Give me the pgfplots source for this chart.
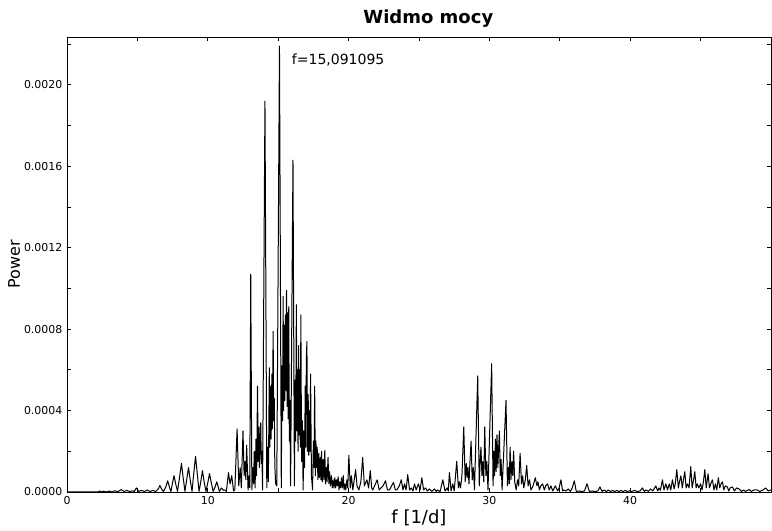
\documentclass[border=0pt]{standalone}
\usepackage{fontspec}
\setmainfont{DejaVu Sans}
\usepackage{pgfplots}
\pgfplotsset{compat=1.18}

\begin{document}
\begin{tikzpicture}
\begin{axis}[
  scale only axis,
  width=528pt, height=341.25pt,
  xmin=0, xmax=50, ymin=0, ymax=0.002235,
  xtick={0,5,...,45}, xticklabels={0,,10,,20,,30,,40,},
  ytick={0,0.0002,0.0004,0.0006,0.0008,0.0010,0.0012,0.0014,0.0016,0.0018,0.0020,0.0022},
  yticklabels={0.0000,,0.0004,,0.0008,,0.0012,,0.0016,,0.0020,},
  scaled y ticks=false,
  tick align=inside, major tick length=3pt,
  tick style={black, line width=0.6pt},
  axis line style={black, line width=0.7pt},
  tick label style={font=\fontsize{8.2}{9}\selectfont},
  /pgf/number format/assume math mode=true,
  xlabel={f [1/d]}, ylabel={Power},
  xlabel style={font=\fontsize{13.5}{15}\selectfont, yshift=3pt},
  ylabel style={font=\fontsize{12}{14}\selectfont, yshift=-4pt},
  title={\textbf{Widmo mocy}},
  title style={font=\fontsize{13.5}{16}\selectfont, yshift=-2pt, xshift=7pt},
]
\addplot[black, line width=0.75pt, line join=round] coordinates {
(0,0) (2.2,0) (2.3,0.000005) (2.45,0) (2.6,0.000004) (2.8,0) (3.0,0.000005) (3.2,0)
(3.4,0.000006) (3.6,0.000001) (3.85,0.000012) (4.05,0.000002) (4.25,0.000008) (4.45,0.000002)
(4.65,0.000006) (4.78,0.000002) (4.92,0.00002) (5.1,0.000003) (5.3,0.000008) (5.5,0.000002)
(5.7,0.00001) (5.9,0.000002) (6.1,0.000008) (6.3,0.000002)
(6.48,0.000015) (6.6,0.000032) (6.72,0.000015) (6.85,0.000002)
(7.02,0.000025) (7.15,0.000055) (7.27,0.000025) (7.38,0.000002)
(7.48,0.00004) (7.6,0.00008) (7.72,0.00004) (7.85,0.000003)
(7.99,0.00007) (8.13,0.00014) (8.25,0.00007) (8.38,0.000003)
(8.5,0.00006) (8.63,0.00012) (8.75,0.00006) (8.88,0.000003)
(9.0,0.00009) (9.13,0.000175) (9.25,0.00009) (9.38,0.000003)
(9.5,0.00005) (9.62,0.000105) (9.74,0.00005) (9.87,0.000003)
(10.0,0.000045) (10.12,0.00009) (10.25,0.000045) (10.38,0.000003)
(10.52,0.000025) (10.64,0.00005) (10.74,0.000025) (10.82,0.000003)
(10.97,0.00002) (11.12,0.000008)
(11.22,0.00001) (11.32,0.000003) (11.47,0.000095) (11.58,0.00004) (11.7,0.00008) (11.83,0.000005)
(11.92,0.00001) (12.08,0.00031) (12.2,0.00003) (12.3,0.00012) (12.38,0.00002) (12.5,0.0003)
(12.58,0.00008) (12.66,0.00015) (12.7,0.00006) (12.76,0.00023) (12.86,0.00001) (12.93,0.00008)
(12.98,0.00002) (13.05,0.00107) (13.13,0.00001) (13.2,0.00012) (13.25,0.00004) (13.3,0.0002)
(13.36,0.00002) (13.42,0.00026) (13.47,0.00008) (13.53,0.00052) (13.58,0.00015) (13.63,0.00032)
(13.67,0.00012) (13.72,0.00028) (13.76,0.00034) (13.8,0.00014) (13.84,0.0002) (13.89,0.00001)
(14.06,0.00192) (14.19,0.00002) (14.25,0.00022) (14.3,0.00005) (14.37,0.00061) (14.41,0.00022)
(14.46,0.00052) (14.5,0.00026) (14.55,0.00058) (14.59,0.00031) (14.64,0.00079) (14.68,0.00035)
(14.72,0.00046) (14.76,0.00013) (14.82,0.00004) (14.9,0.00003) (15.09,0.00219) (15.22,0.00002)
(15.27,0.00062) (15.31,0.00035) (15.35,0.00096) (15.39,0.0004) (15.43,0.00082) (15.47,0.00045)
(15.51,0.00087) (15.55,0.0005) (15.59,0.00099) (15.63,0.00042) (15.67,0.00088) (15.71,0.00036)
(15.75,0.00091) (15.79,0.00025) (15.83,0.00045) (15.88,0.00003) (16.05,0.00163) (16.15,0.00003)
(16.2,0.00055) (16.24,0.00025) (16.29,0.00092) (16.33,0.0003) (16.37,0.0006) (16.41,0.0002)
(16.45,0.00072) (16.49,0.00028) (16.53,0.0006) (16.57,0.00022) (16.61,0.00087) (16.66,0.00015)
(16.72,0.00035) (16.77,0.00001) (16.83,0.0003) (16.87,0.00012) (16.92,0.00052) (16.96,0.00022)
(17.0,0.00066) (17.04,0.00074) (17.08,0.0002) (17.13,0.00048) (17.17,0.00018) (17.22,0.0004)
(17.26,0.0002) (17.3,0.00058) (17.36,0.00008) (17.44,0.00001) (17.5,0.00025) (17.55,0.00012)
(17.59,0.00052) (17.64,0.00008) (17.68,0.00025) (17.72,0.00012) (17.77,0.00022) (17.82,0.00006)
(17.88,0.00019) (17.93,0.00007) (17.99,0.00017) (18.03,0.00006) (18.08,0.0002) (18.13,0.00005)
(18.2,0.00016) (18.25,0.00006) (18.31,0.000205) (18.36,0.00004) (18.42,0.00012) (18.47,0.00005)
(18.54,0.00017) (18.6,0.00004) (18.65,0.0001) (18.71,0.00003) (18.78,0.00008) (18.84,0.00002)
(18.9,0.00006) (18.96,0.00002) (19.02,0.00007) (19.08,0.00002) (19.14,0.00006) (19.2,0.00003)
(19.26,0.000075) (19.32,0.00001) (19.38,0.00005) (19.44,0.00002) (19.5,0.00007) (19.56,0.00002)
(19.62,0.00008) (19.68,0.00001) (19.74,0.00004) (19.8,0.00001) (19.88,0.00006) (19.94,0.00002)
(20.02,0.00018) (20.12,0.00002) (20.2,0.00008) (20.3,0.00001) (20.4,0.00006) (20.5,0.00011)
(20.6,0.00003) (20.73,0.00001) (20.87,0.00005) (21.0,0.00017) (21.12,0.00003) (21.3,0.00006)
(21.42,0.00002) (21.54,0.000105) (21.64,0.00002) (21.72,0.00001) (21.85,0.00003) (22.03,0.00006)
(22.17,0.00001) (22.3,0.00002) (22.45,0.00003) (22.62,0.000055) (22.76,0.00001) (22.9,0.00001)
(23.05,0.00003) (23.19,0.000047) (23.32,0.00001) (23.43,0.00001) (23.6,0.00003) (23.74,0.00006)
(23.86,0.00001) (23.97,0.00004) (24.08,0.00001) (24.2,0.000085) (24.33,0.00001) (24.45,0.00002)
(24.57,0.000005) (24.68,0.00004) (24.8,0.00001) (24.96,0.00004) (25.08,0.00001) (25.2,0.00007)
(25.33,0.00001) (25.46,0.00002) (25.6,0.000005) (25.74,0.000015) (25.9,0.000003) (26.1,0.000015)
(26.22,0.000003) (26.33,0.00001) (26.5,0.000002) (26.69,0.00006) (26.85,0.000005) (27.0,0.00002)
(27.08,0.000005) (27.16,0.000095) (27.28,0.000005) (27.4,0.00004) (27.5,0.000005) (27.68,0.00015)
(27.8,0.00002) (27.87,0.00005) (27.95,0.00002) (28.05,0.00008) (28.18,0.00032) (28.28,0.00005)
(28.36,0.00014) (28.42,0.00007) (28.48,0.00012) (28.55,0.00004) (28.62,0.00015) (28.7,0.00025)
(28.78,0.00006) (28.86,0.00012) (28.94,0.00001) (29.17,0.00057) (29.28,0.00003) (29.34,0.00015)
(29.4,0.00022) (29.47,0.00008) (29.53,0.00015) (29.6,0.00005) (29.67,0.00032) (29.75,0.00008)
(29.82,0.00015) (29.9,0.00001) (30.16,0.00063) (30.26,0.00003) (30.32,0.0002) (30.37,0.00008)
(30.43,0.00026) (30.48,0.0001) (30.54,0.00028) (30.6,0.00012) (30.66,0.00022) (30.71,0.0003)
(30.77,0.00008) (30.83,0.00016) (30.9,0.00001) (31.18,0.00045) (31.28,0.00003) (31.35,0.00012)
(31.41,0.00004) (31.47,0.00022) (31.53,0.00006) (31.6,0.00015) (31.66,0.00008) (31.72,0.0002)
(31.8,0.00005) (31.9,0.00001) (32.0,0.00006) (32.08,0.00003) (32.18,0.00019) (32.28,0.00004)
(32.36,0.00008) (32.44,0.00002) (32.55,0.00006) (32.65,0.00013) (32.75,0.00003) (32.85,0.00006)
(32.95,0.00001) (33.1,0.00003) (33.26,0.00007) (33.38,0.00003) (33.45,0.00005) (33.55,0.00001)
(33.65,0.00003) (33.78,0.00004) (33.9,0.00001) (34.0,0.00003) (34.13,0.00004) (34.25,0.00001)
(34.37,0.00003) (34.5,0.000005) (34.68,0.00003) (34.85,0.000005) (34.95,0.00002) (35.08,0.00006)
(35.2,0.000005) (35.3,0.00001) (35.44,0.000005) (35.6,0.000015) (35.75,0.000003) (35.88,0.00002)
(36.03,0.000055) (36.17,0.000003) (36.38,0.000005) (36.55,0.000002) (36.75,0.000005) (36.93,0.00004)
(37.1,0.000003) (37.3,0.000005) (37.5,0.000002) (37.7,0.000005) (37.85,0.000025) (38.0,0.000003)
(38.15,0.00001) (38.3,0.000002) (38.45,0.00001) (38.6,0.000002) (38.75,0.000008) (38.9,0.000002)
(39.05,0.000008) (39.2,0.000002) (39.35,0.000008) (39.5,0.000002) (39.65,0.000008) (39.8,0.000002)
(39.95,0.000006) (40.1,0.000002) (40.3,0.000008) (40.5,0.000002) (40.7,0.000005) (40.87,0.00002)
(41.0,0.000003) (41.15,0.00001) (41.3,0.000003) (41.45,0.000015) (41.6,0.000005) (41.82,0.00003)
(41.95,0.000005) (42.05,0.00002) (42.15,0.000008) (42.29,0.00006) (42.4,0.00001) (42.53,0.00004)
(42.65,0.00001) (42.77,0.00004) (42.88,0.00001) (43.0,0.00006) (43.12,0.000015) (43.2,0.00004)
(43.31,0.00011) (43.42,0.00002) (43.5,0.00005) (43.6,0.00008) (43.7,0.00002) (43.78,0.00006)
(43.88,0.0001) (43.97,0.00002) (44.07,0.00004) (44.18,0.00002) (44.3,0.000125) (44.4,0.00002)
(44.5,0.00006) (44.59,0.0001) (44.68,0.00002) (44.77,0.00004) (44.88,0.00002) (45.0,0.00004)
(45.1,0.00001) (45.2,0.00005) (45.3,0.00011) (45.4,0.00002) (45.53,0.00009) (45.63,0.00002)
(45.72,0.00004) (45.84,0.00006) (45.95,0.00001) (46.05,0.00004) (46.15,0.00001) (46.26,0.00007)
(46.36,0.00002) (46.45,0.00004) (46.55,0.00005) (46.65,0.00001) (46.75,0.00003) (46.9,0.000025)
(47.0,0.000005) (47.1,0.00002) (47.26,0.000025) (47.4,0.000005) (47.55,0.00002) (47.73,0.000015)
(47.9,0.000003) (48.05,0.00001) (48.2,0.000003) (48.44,0.000012) (48.6,0.000003) (48.8,0.00001)
(49.03,0.00001) (49.2,0.000003) (49.4,0.000008) (49.62,0.00002) (49.8,0.000005) (50,0.00001)
};
\node[anchor=west, font=\fontsize{10.5}{12}\selectfont, inner sep=0pt] at (axis cs:15.96,0.00212) {f=15,091095};
\end{axis}
\pgfresetboundingbox
\path[use as bounding box] ([xshift=-50.25pt, yshift=-29.25pt]current axis.south west)
  rectangle ([xshift=0.75pt, yshift=27.75pt]current axis.north east);
\end{tikzpicture}
\end{document}
